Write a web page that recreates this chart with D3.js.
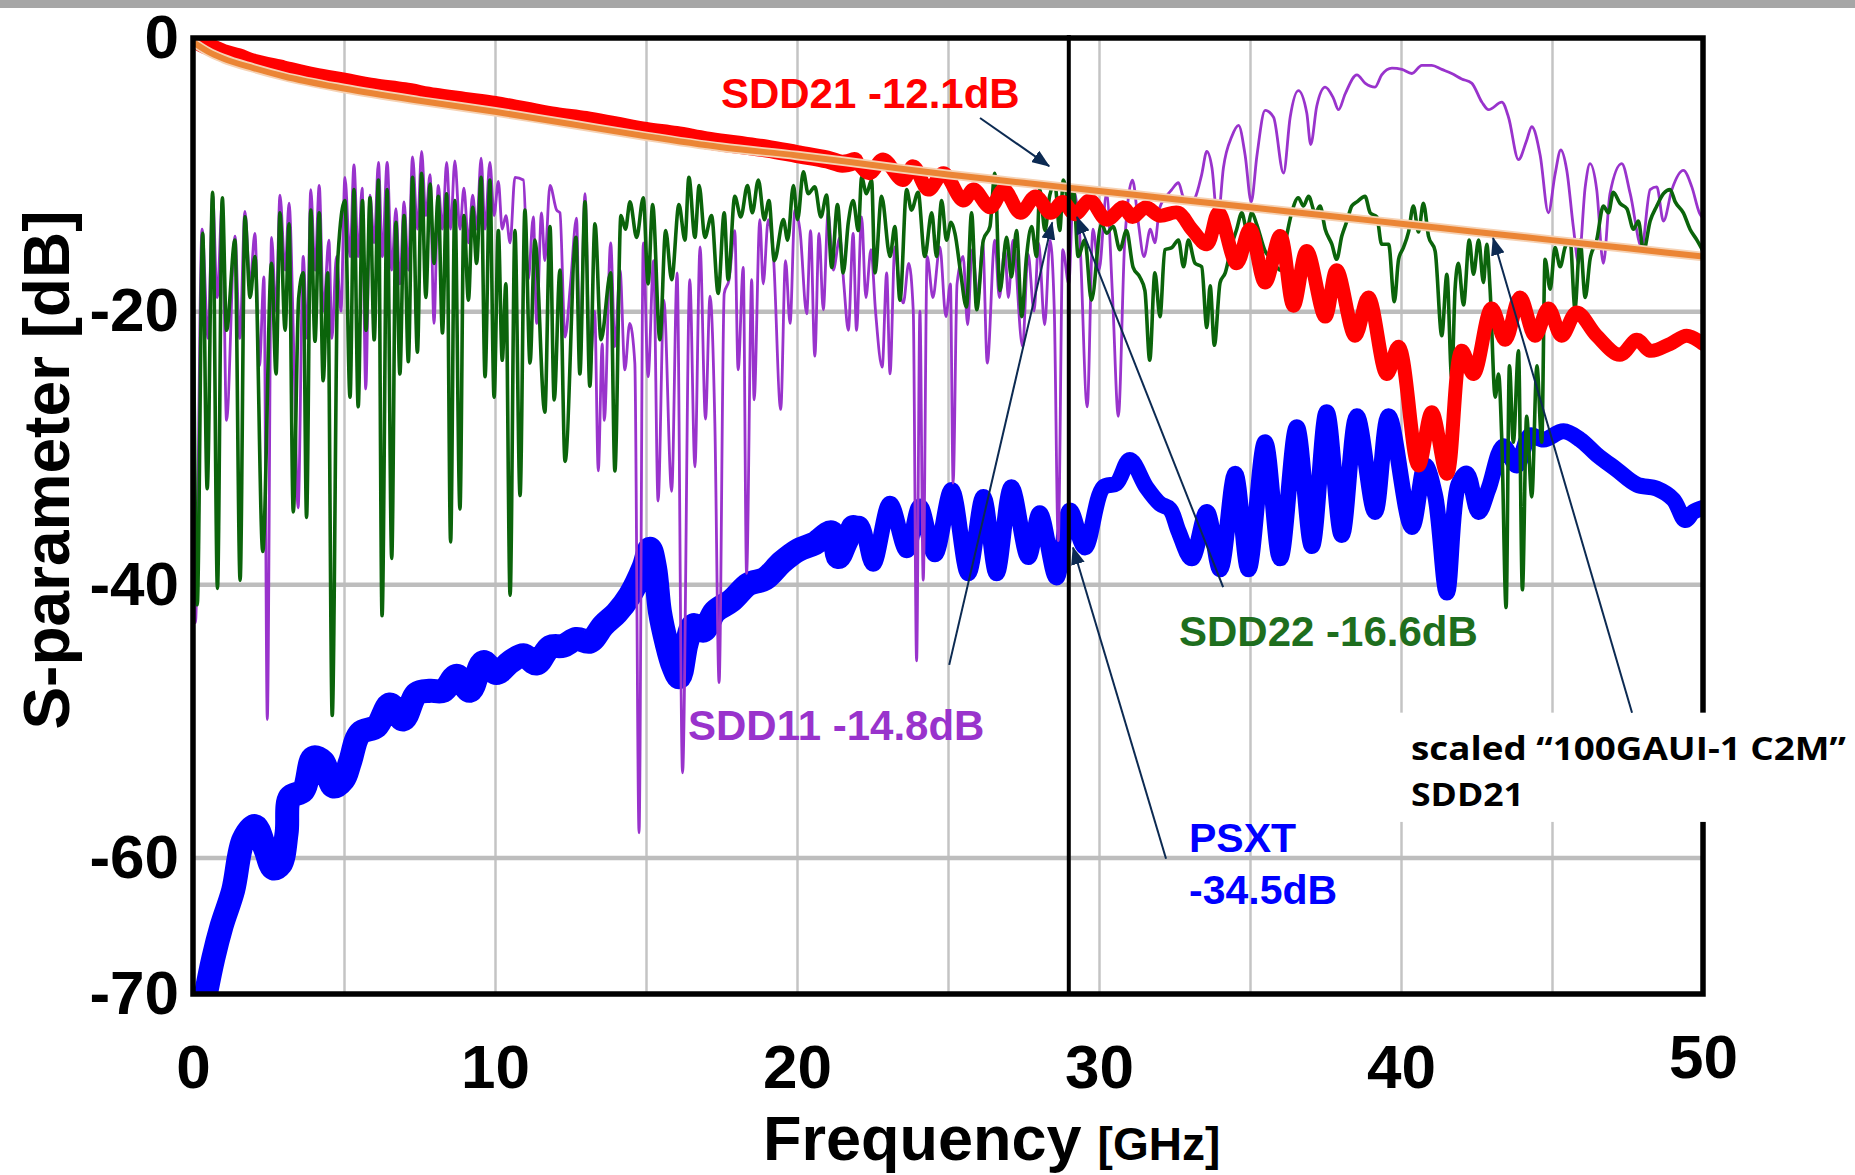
<!DOCTYPE html>
<html>
<head>
<meta charset="utf-8">
<script src="https://d3js.org/d3.v7.min.js"></script>
<style>
body{margin:0;background:#fff;}
</style>
</head>
<body>
<div id="chart"></div>
<script>
// all values: frequency [GHz], level [dB]
var xTicks = [0, 10, 20, 30, 40, 50];
var yTicks = [0, -20, -40, -60, -70];
var xGrid = [5, 10, 15, 20, 25, 30, 35, 40, 45];
var yGrid = [-20, -40, -60];
var markerFreq = 29;
var noisyBelow = 22;   // the measured traces look fuzzier under this frequency

var sdd21 = [[0,0],[0.3,-0.4],[0.7,-0.8],[1,-1.1],[1.5,-1.4],[2,-1.8],[3,-2.3],[4,-2.8],[5,-3.2],[6,-3.6],[7,-3.9],[8,-4.3],[9,-4.6],[10,-4.9],[11,-5.3],[12,-5.7],[13,-6.0],[14,-6.4],[15,-6.8],[16,-7.1],[17,-7.5],[18,-7.8],[19,-8.1],[20,-8.5],[21,-8.9],[21.5,-9.2],[21.9,-9.0],[22.4,-9.9],[22.85,-8.9],[23.5,-10.4],[23.85,-9.4],[24.35,-11.1],[24.85,-9.9],[25.5,-11.9],[25.85,-11.1],[26.4,-12.4],[26.85,-11.1],[27.4,-12.8],[27.9,-11.6],[28.4,-12.8],[28.8,-12.0],[29.2,-12.9],[29.7,-11.9],[30.25,-13.3],[30.8,-12.4],[31.1,-13.1],[31.55,-12.4],[32.0,-13.0],[32.63,-12.8],[33.07,-14.0],[33.57,-15.1],[33.96,-12.8],[34.56,-16.5],[35.0,-14.0],[35.5,-17.9],[36.0,-14.5],[36.44,-19.6],[36.88,-15.6],[37.49,-20.4],[37.87,-17.0],[38.48,-21.8],[38.92,-19.0],[39.53,-24.6],[39.92,-22.6],[40.58,-31.3],[41.02,-27.4],[41.52,-31.9],[42.01,-22.9],[42.4,-24.6],[43.0,-19.8],[43.45,-22.1],[43.94,-19.0],[44.44,-21.8],[44.88,-19.8],[45.32,-21.8],[45.82,-20.1],[46.48,-21.8],[47.25,-23.2],[47.81,-22.1],[48.25,-22.9],[48.91,-22.4],[49.46,-21.8],[50,-22.4]];

var c2mScaled = [[0,-0.3],[0.5,-1.0],[1,-1.5],[2,-2.2],[3,-2.8],[5,-3.7],[7.5,-4.6],[10,-5.4],[12.5,-6.3],[15,-7.2],[17.5,-8.0],[20,-8.6],[22.5,-9.3],[25,-10.0],[27.5,-10.6],[30,-11.2],[32.5,-11.8],[35,-12.4],[37.5,-13.0],[40,-13.6],[42.5,-14.2],[45,-14.8],[47.5,-15.4],[50,-16.0]];

var sdd11 = [[0,-18],[0.08,-42.8],[0.3,-14.0],[0.5,-22],[0.65,-11.5],[0.8,-19],[0.97,-12.0],[1.11,-28.0],[1.39,-14.5],[1.55,-22],[1.72,-12.7],[1.89,-18],[2.05,-14.3],[2.2,-24],[2.35,-17.5],[2.46,-49.9],[2.6,-14.6],[2.75,-20],[2.88,-11.5],[3.05,-17],[3.18,-12.1],[3.35,-24],[3.48,-34.4],[3.65,-16.0],[3.78,-22],[3.9,-11.1],[4.04,-17],[4.18,-10.8],[4.32,-20],[4.5,-14.8],[4.6,-22],[4.75,-16],[4.9,-20],[5.03,-10.2],[5.2,-16],[5.33,-9.3],[5.47,-16],[5.6,-11],[5.72,-25.7],[5.86,-11.5],[6.0,-15],[6.14,-9.1],[6.27,-16],[6.43,-9.1],[6.58,-17],[6.72,-12.5],[6.85,-18],[6.99,-12.0],[7.13,-17],[7.27,-8.7],[7.43,-14],[7.57,-8.3],[7.71,-13],[7.85,-10],[7.98,-20.9],[8.12,-10.8],[8.26,-14],[8.4,-9.1],[8.53,-14],[8.67,-9.0],[8.84,-14],[8.97,-11.0],[9.12,-15],[9.26,-11.5],[9.39,-14],[9.54,-8.8],[9.67,-14],[9.83,-9.1],[9.97,-13],[10.11,-10.5],[10.24,-14],[10.36,-13.0],[10.5,-15],[10.66,-10.2],
  [10.94,-10.4],[11.1,-17.7],[11.27,-13.1],[11.38,-20.9],[11.54,-12.8],[11.65,-16.3],[11.82,-10.8],[12.04,-12.6],[12.15,-12.8],[12.32,-21.9],[12.5,-18],[12.7,-13.2],[12.81,-23.8],[12.98,-11.4],[13.14,-24.3],[13.3,-20],[13.42,-31.7],[13.55,-22.4],[13.62,-28.0],[13.83,-15.0],[13.97,-22.6],[14.14,-17.0],[14.3,-24.3],[14.46,-20.9],[14.63,-23.8],[14.77,-58.2],[14.91,-15.0],[15.07,-24.8],[15.25,-16.3],[15.4,-33.9],[15.59,-19.2],[15.85,-33.2],[16.03,-17.2],[16.21,-53.8],[16.45,-17.7],[16.62,-31.4],[16.79,-15.3],[16.97,-27.9],[17.12,-18.9],[17.28,-28.2],[17.42,-47.2],[17.59,-18.7],[17.75,-17.7],[17.94,-14.1],[18.05,-24.3],[18.22,-16.8],[18.33,-39.2],[18.5,-17.7],[18.58,-26.5],[18.77,-13.3],[18.88,-18.0],[19.05,-13.3],[19.22,-16],[19.46,-27.2],[19.62,-16.3],[19.77,-20.9],[19.93,-12.6],[20.1,-14.1],[20.32,-20.2],[20.45,-14.1],[20.59,-23.3],[20.73,-14.3],[20.87,-19.9],[21.03,-12.8],[21.2,-17.0],[21.42,-14.6],
  [21.55,-18],[21.7,-21.4],[21.86,-14.3],[21.97,-21.4],[22.14,-13.1],[22.28,-19.0],[22.45,-15.5],[22.6,-20.0],[22.82,-24.1],[22.97,-17.2],[23.08,-24.6],[23.24,-15.3],[23.4,-18.5],[23.52,-19.4],[23.7,-16.5],[23.85,-20.0],[23.96,-45.6],[24.07,-20.0],[24.18,-39.7],[24.31,-16.0],[24.5,-19.0],[24.73,-15.3],[24.93,-20.4],[25.08,-18.0],[25.17,-32.6],[25.3,-18.0],[25.5,-16.0],[25.65,-21.0],[25.8,-15.5],[26.0,-19.0],[26.15,-15.0],[26.3,-23.8],[26.55,-14.8],[26.7,-19.0],[26.88,-15.5],[27.0,-19.0],[27.15,-14.8],[27.47,-22.6],[27.65,-15.8],[27.85,-20.0],[28.0,-15.0],[28.2,-21.0],[28.38,-14.8],[28.52,-20.0],[28.65,-36.8],[28.8,-15.5],[29.0,-18.0],[29.15,-11.1],[29.35,-14.0],[29.61,-27.0],[29.8,-14.0],[30.0,-17.0],[30.25,-11.4],[30.45,-19.0],[30.64,-27.7],[30.85,-15.0],[31.11,-10.4],[31.3,-13.5],[31.49,-16.0],[31.7,-14.0],[31.85,-15.0],[32.0,-12.5],
  [32.19,-11.7],[32.41,-11.1],[32.63,-10.6],[32.8,-11.7],[33.02,-12.0],[33.18,-11.7],[33.4,-10.0],[33.57,-8.3],[33.74,-9.5],[33.93,-13.4],[34.12,-9.5],[34.4,-7.2],[34.62,-6.4],[34.84,-8.6],[35.04,-12.0],[35.23,-8.6],[35.5,-5.3],[35.78,-5.8],[36.11,-9.9],[36.33,-5.8],[36.6,-3.85],[36.88,-5.5],[37.01,-7.8],[37.21,-5.0],[37.49,-3.6],[37.76,-4.4],[37.93,-5.25],[38.15,-4.1],[38.54,-2.7],[38.81,-3.3],[39.14,-3.6],[39.36,-2.7],[39.7,-2.2],[40.03,-2.3],[40.36,-2.6],[40.69,-2.0],[41.02,-2.0],[41.35,-2.3],[41.68,-2.6],[42.01,-3.0],[42.34,-3.3],[42.68,-4.7],[42.9,-5.25],
  [43.34,-4.7],[43.56,-5.8],[43.89,-8.9],[44.16,-7.5],[44.33,-6.5],[44.61,-8.6],[44.88,-12.8],[45.1,-10.0],[45.29,-8.2],[45.49,-9.7],[45.71,-13.9],[45.88,-16.5],[46.1,-10.9],[46.26,-9.2],[46.48,-11.1],[46.7,-16.5],[46.92,-11.4],[47.31,-9.2],[47.59,-11.4],[47.97,-15.3],[48.25,-11.1],[48.47,-10.9],[48.69,-13.4],[48.97,-11.1],[49.35,-9.7],[49.63,-10.9],[49.88,-12.8],[50,-13.2]];

var sdd22 = [[0,-16],[0.14,-41.5],[0.32,-14.3],[0.47,-33.0],[0.65,-11.3],[0.81,-40.3],[0.97,-11.7],[1.11,-21.4],[1.39,-14.8],[1.56,-39.7],[1.72,-13.1],[1.89,-19.0],[2.05,-16.0],[2.31,-37.6],[2.6,-16.5],[2.75,-24.6],[2.88,-12.8],[3.05,-21.4],[3.18,-13.6],[3.32,-34.7],[3.5,-19],[3.65,-17.2],[3.76,-35.1],[3.9,-12.6],[4.04,-22.2],[4.18,-12.8],[4.31,-25.1],[4.46,-17.2],[4.61,-49.6],[4.8,-16],[5.03,-11.9],[5.2,-26.3],[5.33,-11.1],[5.47,-27.0],[5.61,-11.9],[5.73,-21.4],[5.86,-11.7],[6.0,-22.1],[6.14,-10.4],[6.26,-42.3],[6.43,-11.1],[6.58,-38.1],[6.72,-13.5],[6.85,-24.6],[6.99,-13.0],[7.13,-23.7],[7.27,-10.2],[7.43,-23.0],[7.57,-9.9],[7.71,-19.0],[7.85,-10.7],[7.98,-16.5],[8.12,-11.6],[8.26,-21.6],[8.4,-11.4],[8.53,-36.9],[8.67,-11.9],[8.84,-34.5],[8.97,-13.0],[9.12,-19.2],[9.26,-12.4],[9.39,-16.5],[9.54,-10.2],[9.67,-24.8],[9.83,-10.4],[9.97,-26.3],[10.11,-14.1],[10.24,-23.6],[10.36,-18.0],[10.5,-40.8],[10.66,-14.1],[10.83,-33.5],
  [10.99,-12.6],[11.16,-23.8],[11.32,-14.8],[11.65,-27.4],[11.82,-13.8],[11.96,-26.5],[12.15,-17.0],[12.32,-31.0],[12.68,-14.6],[12.81,-24.6],[12.98,-12.0],[13.14,-25.5],[13.31,-13.6],[13.51,-22.1],[13.83,-17.2],[13.97,-31.7],[14.17,-13.0],[14.32,-14.0],[14.47,-12.0],[14.69,-14.6],[14.91,-11.7],[15.07,-18.0],[15.22,-12.2],[15.46,-22.1],[15.65,-14.1],[15.85,-17.7],[16.09,-12.2],[16.29,-14.8],[16.42,-10.2],[16.62,-14.6],[16.76,-10.8],[16.95,-14.6],[17.17,-13.0],[17.39,-18.7],[17.59,-12.8],[17.72,-17.7],[17.94,-11.6],[18.14,-13.1],[18.36,-10.8],[18.52,-12.8],[18.72,-10.4],[18.92,-13.3],[19.07,-11.9],[19.25,-16.3],[19.55,-13.3],[19.69,-14.8],[19.88,-10.8],[20.02,-13.3],[20.21,-9.8],[20.37,-11.4],[20.59,-10.9],[20.79,-13.1],[20.98,-11.5],[21.15,-16.8],[21.34,-12.2],[21.53,-17.2],
  [21.7,-13.5],[21.86,-11.9],[22.03,-14.1],[22.14,-10.2],[22.3,-11.4],[22.47,-10.4],[22.58,-17.2],[22.8,-11.6],[23.08,-16.0],[23.24,-13.8],[23.41,-19.2],[23.63,-11.1],[23.79,-12.6],[24.01,-11.3],[24.23,-16.0],[24.46,-12.8],[24.62,-16.0],[24.79,-11.9],[24.95,-14.8],[25.1,-13.5],[25.23,-14.3],[25.42,-17.2],[25.61,-19.7],[25.78,-12.8],[25.95,-19.9],[26.17,-14.8],[26.39,-13.8],[26.55,-9.9],[26.72,-18.5],[26.94,-14.6],[27.1,-17.5],[27.27,-14.1],[27.44,-20.4],[27.6,-16],[27.77,-13.8],[27.93,-16.0],[28.04,-11.1],[28.21,-14.1],[28.37,-11.5],[28.54,-10.7],[28.7,-14.1],[28.82,-10.4],[29.04,-12.8],[29.15,-10.9],[29.31,-16.0],[29.53,-14.8],[29.75,-19.2],[30.08,-13.6],[30.25,-14.3],[30.47,-13.8],[30.69,-15.5],[30.91,-14.1],[31.13,-16.8],[31.35,-17.5],[31.52,-18.5],[31.68,-23.6],[31.85,-17.2],[32.02,-20.4],[32.18,-15.5],
  [32.41,-15.35],[32.63,-14.8],[32.8,-16.75],[32.96,-14.8],[33.18,-16.5],[33.4,-16.75],[33.57,-21.2],[33.68,-18.15],[33.82,-22.5],[34.01,-17.9],[34.18,-17.2],[34.4,-15.1],[34.56,-14.0],[34.73,-12.8],[34.89,-14.0],[35.06,-12.8],[35.23,-13.7],[35.5,-15.6],[35.72,-16.2],[36.0,-17.0],[36.16,-15.1],[36.38,-12.8],[36.6,-11.7],[36.77,-12.3],[36.94,-11.6],[37.16,-12.8],[37.32,-12.3],[37.49,-14.0],[37.71,-15.1],[37.87,-16.2],[38.04,-14.5],[38.21,-13.4],[38.37,-12.3],[38.54,-12.0],[38.81,-11.6],[38.98,-12.8],[39.2,-13.1],[39.36,-15.1],[39.59,-15.1],[39.78,-19.3],[39.92,-16.2],[40.08,-15.35],[40.25,-14.2],[40.41,-12.3],[40.58,-14.2],[40.74,-12.1],[40.91,-14.5],[41.13,-15.6],[41.35,-21.8],[41.52,-17.3],[41.68,-24.9],[41.79,-18.4],[41.9,-16.5],[42.07,-19.55],[42.26,-14.8],[42.4,-17.3],[42.57,-14.8],[42.73,-17.9],[42.84,-15.1],[42.95,-18.4],
  [43.12,-26.3],[43.23,-24.6],[43.34,-29.6],[43.48,-41.7],[43.59,-24.0],[43.72,-29.6],[43.89,-22.9],[44.02,-40.4],[44.16,-27.7],[44.33,-33.6],[44.5,-24.0],[44.66,-29.6],[44.77,-16.2],[44.94,-18.4],[45.1,-15.35],[45.27,-16.75],[45.43,-15.35],[45.6,-14.8],[45.76,-19.8],[45.93,-14.8],[46.1,-19.0],[46.26,-16.2],[46.48,-14.8],[46.7,-12.3],[46.87,-12.8],[47.03,-11.3],[47.25,-12.1],[47.48,-12.5],[47.7,-14.0],[47.86,-13.4],[48.03,-15.6],[48.25,-13.4],[48.47,-12.3],[48.69,-11.4],[48.91,-11.1],[49.08,-12.0],[49.35,-12.8],[49.57,-14.0],[49.8,-14.8],[50,-15.6]];

var psxt = [[0.4,-70.3],[0.67,-67.4],[0.95,-65.0],[1.33,-62.4],[1.67,-58.7],[2.05,-57.7],[2.38,-59.3],[2.66,-60.8],[2.9,-60.5],[3.1,-58.2],[3.21,-55.6],[3.65,-55.1],[3.98,-52.7],[4.31,-53.0],[4.65,-54.8],[4.98,-54.3],[5.2,-53.0],[5.53,-50.9],[6.08,-50.4],[6.52,-48.8],[6.96,-49.9],[7.41,-48.0],[7.85,-47.8],[8.29,-47.8],[8.73,-46.7],[9.17,-47.8],[9.61,-45.7],[10.05,-46.5],[10.5,-45.7],[10.94,-45.2],[11.38,-45.8],[11.82,-44.6],[12.26,-44.5],[12.7,-44.0],[13.14,-44.2],[13.59,-43.0],[14.03,-42.1],[14.47,-40.8],[14.91,-38.8],[15.13,-37.4],[15.3,-38.8],[15.46,-42.0],[15.68,-44.3],[15.9,-46.0],[16.1,-46.8],[16.35,-44.3],[16.57,-43.0],[16.9,-43.4],[17.28,-42.0],[17.83,-41.2],[18.39,-40.0],[18.94,-39.6],[19.49,-38.4],[20.04,-37.5],[20.59,-37.0],[21.15,-36.2],[21.37,-38.0],[21.6,-37.0],[21.86,-35.8],[22.1,-35.6],[22.52,-38.5],[23.08,-34.1],[23.63,-37.5],[24.07,-34.3],[24.57,-37.8],[25.12,-33.1],[25.67,-39.2],[26.17,-33.6],[26.61,-39.2],[27.1,-32.9],[27.66,-38.0],[28.04,-34.8],[28.59,-39.5],[29.04,-34.6],[29.53,-37.3],[30.14,-32.9],[30.58,-32.6],[31.02,-30.9],[31.57,-32.9],[32.02,-34.1],[32.35,-34.5],[32.63,-36.1],[33.07,-38.1],[33.57,-34.7],[34.01,-38.9],[34.51,-31.9],[34.95,-38.9],[35.5,-29.6],[36.0,-38.1],[36.55,-28.5],[37.05,-37.2],[37.54,-27.4],[38.04,-36.4],[38.54,-27.7],[39.14,-34.7],[39.59,-27.7],[40.36,-35.8],[40.8,-31.3],[41.13,-33.5],[41.52,-40.6],[41.9,-32.7],[42.18,-31.9],[42.57,-34.7],[42.9,-33.0],[43.39,-29.9],[43.83,-31.3],[44.27,-29.1],[44.72,-29.4],[45.38,-28.8],[45.93,-29.4],[46.48,-30.5],[47.14,-31.6],[47.81,-32.7],[48.47,-33.0],[49.02,-33.8],[49.41,-35.3],[49.68,-34.7],[50,-34.4]];

// label text, anchor [GHz, dB], colour, size
var labels = [
  {text: "SDD21 -12.1dB", f: 17.48, db: -5.13, color: "#ff0000", size: 42},
  {text: "SDD11 -14.8dB", f: 16.39, db: -51.4, color: "#9933cc", size: 42},
  {text: "SDD22 -16.6dB", f: 32.65, db: -44.5, color: "#1e6e1e", size: 42},
  {text: "PSXT", f: 32.98, db: -59.6, color: "#0000ff", size: 41},
  {text: "-34.5dB", f: 32.98, db: -63.4, color: "#0000ff", size: 41}
];
// arrows: from [GHz, dB] to [GHz, dB]
var arrows = [
  [26.06, -5.86, 28.35, -9.38],
  [25.04, -45.9, 28.45, -13.5],
  [34.11, -40.2, 29.27, -13.1],
  [32.22, -60.1, 29.14, -37.3],
  [47.65, -49.4, 43.05, -14.65]
];

var W = 1855, H = 1175;
var plot = {x0: 193, x1: 1703, y0: 38, y1: 994};
var font = "'Liberation Sans', Arial, sans-serif";

var svg = d3.select("#chart").append("svg").attr("width", W).attr("height", H);
svg.append("rect").attr("width", W).attr("height", H).attr("fill", "#fff");
svg.append("rect").attr("width", W).attr("height", 8).attr("fill", "#a6a6a6");

var x = d3.scaleLinear().domain([0, 50]).range([plot.x0, plot.x1]);
var y = d3.scaleLinear().domain([0, -70]).range([plot.y0, plot.y1]);

svg.append("clipPath").attr("id", "clip").append("rect")
  .attr("x", plot.x0).attr("y", plot.y0)
  .attr("width", plot.x1 - plot.x0).attr("height", plot.y1 - plot.y0);

// grid
var gx = svg.append("g").attr("transform", "translate(0," + plot.y1 + ")")
  .call(d3.axisBottom(x).tickValues(xGrid).tickSize(-(plot.y1 - plot.y0)).tickFormat(""));
gx.select(".domain").remove();
gx.selectAll("line").attr("stroke", "#c4c4c4").attr("stroke-width", 2.5);

var gy = svg.append("g").attr("transform", "translate(" + plot.x0 + ",0)")
  .call(d3.axisLeft(y).tickValues(yGrid).tickSize(-(plot.x1 - plot.x0)).tickFormat(""));
gy.select(".domain").remove();
gy.selectAll("line").attr("stroke", "#bdbdbd").attr("stroke-width", 4.5);

var series = svg.append("g").attr("clip-path", "url(#clip)");

function draw(data, color, width, curve){
  var line = d3.line()
    .x(function(d){ return x(d[0]); })
    .y(function(d){ return y(d[1]); })
    .curve(curve);
  series.append("path").datum(data)
    .attr("d", line)
    .attr("fill", "none")
    .attr("stroke", color)
    .attr("stroke-width", width)
    .attr("stroke-linejoin", "round")
    .attr("stroke-linecap", "round");
}

function lowPart(data){
  return data.filter(function(d){ return d[0] <= noisyBelow; });
}

draw(lowPart(psxt), "#0000ff", 24, d3.curveCatmullRom);
draw(psxt, "#0000ff", 16, d3.curveCatmullRom);
draw(sdd11, "#9933cc", 2.8, d3.curveMonotoneX);
draw(sdd22, "#0b640b", 3.6, d3.curveMonotoneX);
draw(lowPart(sdd21), "#ff0000", 18, d3.curveCatmullRom);
draw(sdd21, "#ff0000", 14, d3.curveCatmullRom);
draw(c2mScaled, "#f6d2b4", 9.5, d3.curveMonotoneX);
draw(c2mScaled, "#eb8535", 6, d3.curveMonotoneX);

// 29 GHz marker
svg.append("line")
  .attr("x1", x(markerFreq)).attr("x2", x(markerFreq))
  .attr("y1", plot.y0 - 3).attr("y2", plot.y1)
  .attr("stroke", "#000").attr("stroke-width", 4);

// frame
svg.append("rect")
  .attr("x", plot.x0).attr("y", plot.y0)
  .attr("width", plot.x1 - plot.x0).attr("height", plot.y1 - plot.y0)
  .attr("fill", "none").attr("stroke", "#000").attr("stroke-width", 5.5);

// white box behind the scaled C2M note
svg.append("rect")
  .attr("x", x(39.8)).attr("y", y(-49.4))
  .attr("width", W - x(39.8)).attr("height", y(-57.4) - y(-49.4))
  .attr("fill", "#fff");

// axes labels
var ax = svg.append("g").attr("transform", "translate(0," + plot.y1 + ")")
  .call(d3.axisBottom(x).tickValues(xTicks).tickSize(0).tickPadding(50)
    .tickFormat(function(d){ return String(d); }));
ax.select(".domain").remove();
ax.selectAll("text")
  .attr("font-family", font).attr("font-weight", "bold").attr("font-size", 62).attr("fill", "#000")
  .attr("y", function(d){ return d === 50 ? 40 : 50; });

var ay = svg.append("g").attr("transform", "translate(" + plot.x0 + ",0)")
  .call(d3.axisLeft(y).tickValues(yTicks).tickSize(0).tickPadding(14)
    .tickFormat(function(d){ return String(d); }));
ay.select(".domain").remove();
ay.selectAll("text")
  .attr("font-family", font).attr("font-weight", "bold").attr("font-size", 62).attr("fill", "#000");

svg.append("text")
  .attr("transform", "translate(69,470) rotate(-90)")
  .attr("text-anchor", "middle")
  .attr("font-family", font).attr("font-weight", "bold").attr("font-size", 64)
  .text("S-parameter [dB]");

var xt = svg.append("text")
  .attr("x", 763).attr("y", 1160)
  .attr("font-family", font).attr("font-weight", "bold");
xt.append("tspan").attr("font-size", 63).text("Frequency");
xt.append("tspan").attr("font-size", 46).attr("dx", 16).text("[GHz]");

// arrows
var defs = svg.append("defs");
defs.append("marker").attr("id", "head")
  .attr("markerUnits", "userSpaceOnUse")
  .attr("markerWidth", 18).attr("markerHeight", 14)
  .attr("refX", 17).attr("refY", 7).attr("orient", "auto")
  .append("path").attr("d", "M0,0L18,7L0,14Z").attr("fill", "#0c2a52");

svg.selectAll(".arrow").data(arrows).enter().append("line")
  .attr("class", "arrow")
  .attr("x1", function(d){ return x(d[0]); })
  .attr("y1", function(d){ return y(d[1]); })
  .attr("x2", function(d){ return x(d[2]); })
  .attr("y2", function(d){ return y(d[3]); })
  .attr("stroke", "#0c2a52").attr("stroke-width", 2)
  .attr("marker-end", "url(#head)");

svg.selectAll(".note").data(labels).enter().append("text")
  .attr("class", "note")
  .attr("x", function(d){ return x(d.f); })
  .attr("y", function(d){ return y(d.db); })
  .attr("font-family", font).attr("font-weight", "bold")
  .attr("font-size", function(d){ return d.size; })
  .attr("fill", function(d){ return d.color; })
  .text(function(d){ return d.text; });

svg.append("text")
  .attr("x", x(40.33)).attr("y", y(-52.9))
  .attr("font-family", "'Open Sans', sans-serif").attr("font-weight", "bold").attr("font-size", 32)
  .attr("textLength", 435).attr("lengthAdjust", "spacingAndGlyphs")
  .text("scaled \u201c100GAUI-1 C2M\u201d");
svg.append("text")
  .attr("x", x(40.33)).attr("y", y(-56.2))
  .attr("font-family", "'Open Sans', sans-serif").attr("font-weight", "bold").attr("font-size", 32)
  .attr("textLength", 113).attr("lengthAdjust", "spacingAndGlyphs")
  .text("SDD21");
</script>
</body>
</html>
